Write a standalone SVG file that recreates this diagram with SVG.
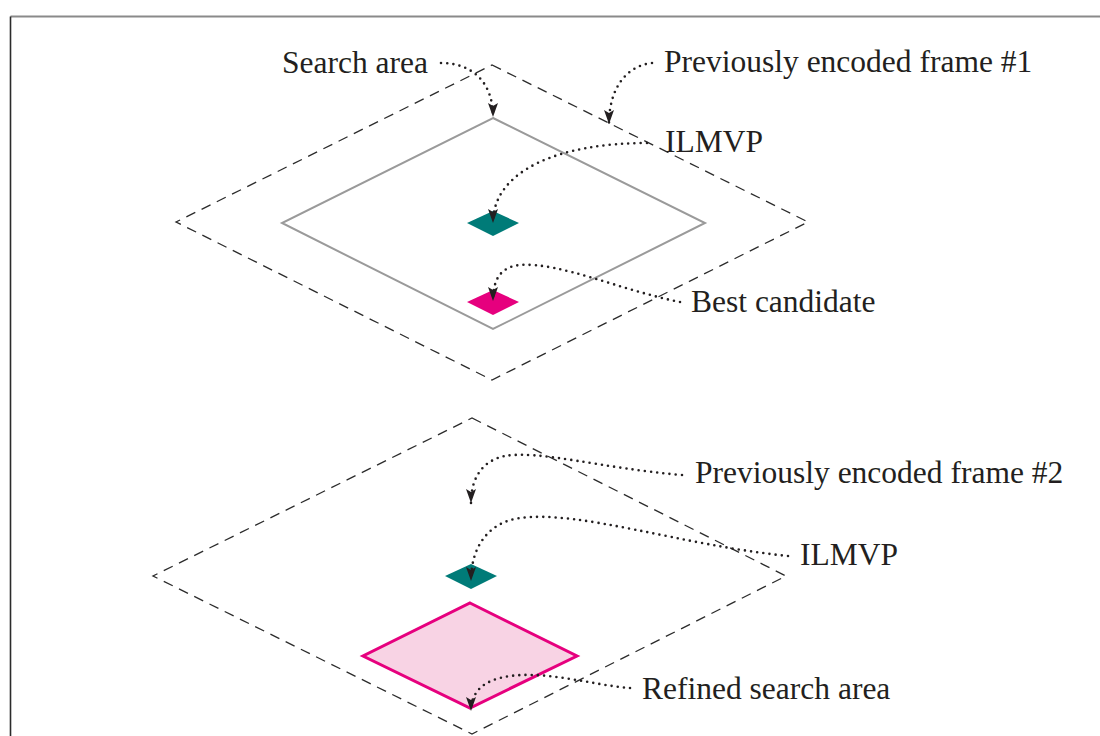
<svg xmlns="http://www.w3.org/2000/svg" width="1100" height="736" viewBox="0 0 1100 736">
  <style>
    .frame { fill: none; stroke: #2b2b2b; stroke-width: 1.3; stroke-dasharray: 10 7; }
    .area { fill: none; stroke: #9a9a9a; stroke-width: 2; }
    .ilmvp { fill: #007b78; }
    .best { fill: #e6007e; }
    .refined { fill: #f8d3e4; stroke: #e6007e; stroke-width: 3; stroke-linejoin: miter; }
    .lbl { font-family: "Liberation Serif", "Times New Roman", serif; font-size: 31.5px; fill: #231f20; }
    .link { fill: none; stroke: #231f20; stroke-width: 2.6; stroke-dasharray: 0 6.2; stroke-linecap: round; marker-end: url(#tip); }
  </style>
  <defs>
    <marker id="tip" markerUnits="userSpaceOnUse" markerWidth="15" markerHeight="11" refX="14" refY="5" orient="auto">
      <path d="M0,0 L14,5 L0,10 L3,5 Z" fill="#231f20"/>
    </marker>
  </defs>

  <rect width="1100" height="736" fill="#ffffff"/>

  <!-- outer border -->
  <g id="border">
    <line x1="10.5" y1="16.5" x2="1100" y2="16.5" stroke="#8a8a8a" stroke-width="2"/>
    <line x1="10.5" y1="16.5" x2="10.5" y2="736" stroke="#2b2b2b" stroke-width="1.6"/>
  </g>

  <!-- upper reference frame -->
  <g id="frame1">
    <polygon class="frame" points="492,65 808,222 492,380 176,222"/>
  </g>
  <g id="search-area">
    <polygon class="area" points="493,118 705,223 493,329 282,223"/>
  </g>
  <g id="ilmvp1">
    <polygon class="ilmvp" points="493,211 519,223 493,236 467,223"/>
  </g>
  <g id="best-candidate">
    <polygon class="best" points="493,290 519,302 493,315 467,302"/>
  </g>

  <!-- lower reference frame -->
  <g id="frame2">
    <polygon class="frame" points="472,418 786,576 472,734 153,576"/>
  </g>
  <g id="refined-area">
    <polygon class="refined" points="470,603 577,656 470,708 363,656"/>
  </g>
  <g id="ilmvp2">
    <polygon class="ilmvp" points="471,564 497,576 471,589 445,576"/>
  </g>

  <!-- labels -->
  <g id="labels">
    <text class="lbl" x="282" y="73">Search area</text>
    <text class="lbl" x="664" y="72">Previously encoded frame #1</text>
    <text class="lbl" x="665" y="152">ILMVP</text>
    <text class="lbl" x="691" y="312">Best candidate</text>
    <text class="lbl" x="695" y="483">Previously encoded frame #2</text>
    <text class="lbl" x="800" y="565">ILMVP</text>
    <text class="lbl" x="642" y="699">Refined search area</text>
  </g>

  <!-- dotted leader arrows -->
  <g id="connectors">
    <path class="link" d="M441,63 C470,63 493,80 493,117"/>
    <path class="link" d="M652,63 C625,66 609,90 609,124"/>
    <path class="link" d="M647,143 C560,143 493,170 493,223"/>
    <path class="link" d="M680,302 C620,290 560,262 520,265 C500,267 493,280 493,301"/>
    <path class="link" d="M682,475 C600,468 540,450 505,456 C485,460 471,475 471,503"/>
    <path class="link" d="M788,556 C680,545 580,510 520,518 C490,522 471,545 471,581"/>
    <path class="link" d="M630,688 C590,685 540,668 500,678 C480,683 471,695 471,711"/>
  </g>
</svg>
